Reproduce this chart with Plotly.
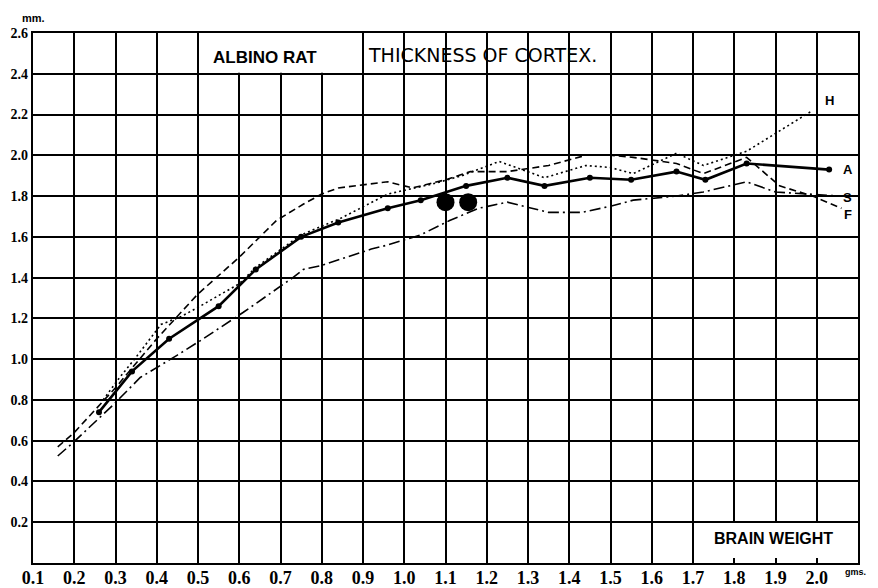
import plotly.graph_objects as go

# ---- data ----
a_x = [0.26, 0.34, 0.43, 0.55, 0.64, 0.75, 0.84, 0.96, 1.04, 1.15, 1.25, 1.34, 1.45, 1.55, 1.66, 1.73, 1.83, 2.03]
a_y = [0.74, 0.94, 1.10, 1.26, 1.44, 1.60, 1.67, 1.74, 1.78, 1.85, 1.89, 1.85, 1.89, 1.88, 1.92, 1.88, 1.96, 1.93]

h_x = [0.27, 0.31, 0.35, 0.41, 0.46, 0.505, 0.60, 0.64, 0.75, 0.845, 0.96, 1.07, 1.14, 1.23, 1.34, 1.44, 1.50, 1.555, 1.66, 1.725, 1.83, 1.99]
h_y = [0.80, 0.91, 1.01, 1.17, 1.21, 1.26, 1.37, 1.45, 1.61, 1.69, 1.81, 1.86, 1.90, 1.97, 1.89, 1.95, 1.94, 1.91, 2.01, 1.95, 2.02, 2.22]

f_x = [0.16, 0.20, 0.30, 0.40, 0.50, 0.60, 0.69, 0.755, 0.80, 0.84, 0.96, 1.02, 1.10, 1.16, 1.25, 1.35, 1.44, 1.50, 1.555, 1.66, 1.725, 1.83, 1.91, 1.99, 2.06]
f_y = [0.57, 0.64, 0.86, 1.10, 1.32, 1.50, 1.68, 1.76, 1.81, 1.84, 1.87, 1.84, 1.88, 1.92, 1.92, 1.95, 2.00, 2.00, 1.99, 1.96, 1.91, 1.99, 1.85, 1.80, 1.74]

s_x = [0.16, 0.197, 0.294, 0.36, 0.45, 0.505, 0.61, 0.73, 0.755, 0.80, 0.92, 0.96, 1.04, 1.11, 1.18, 1.25, 1.35, 1.43, 1.50, 1.555, 1.66, 1.725, 1.83, 1.90, 2.06]
s_y = [0.525, 0.59, 0.775, 0.91, 1.02, 1.09, 1.23, 1.40, 1.44, 1.46, 1.54, 1.56, 1.61, 1.68, 1.74, 1.77, 1.72, 1.72, 1.75, 1.78, 1.80, 1.82, 1.87, 1.82, 1.80]

big_x = [1.10, 1.155]
big_y = [1.77, 1.77]

x_ticks = [round(0.1 * i, 1) for i in range(1, 21)]
x_labels = ["0.1", "0.2", "0.3", "0.4", "0.5", "0.6", "0.7", "0.8", "0.9", "1.0",
            "1.1", "1.2", "1.3", "1.4", "1.5", "1.6", "1.7", "1.8", "1.9", "2.0"]
y_ticks = [round(0.2 * i, 1) for i in range(1, 14)]
y_labels = ["0.2", "0.4", "0.6", "0.8", "1.0", "1.2", "1.4", "1.6", "1.8", "2.0", "2.2", "2.4", "2.6"]

fig = go.Figure()
fig.add_trace(go.Scatter(x=h_x, y=h_y, mode="lines", name="H",
                         line=dict(color="black", width=1.6, dash="2px,3px")))
fig.add_trace(go.Scatter(x=f_x, y=f_y, mode="lines", name="F",
                         line=dict(color="black", width=1.6, dash="7px,4px")))
fig.add_trace(go.Scatter(x=s_x, y=s_y, mode="lines", name="S",
                         line=dict(color="black", width=1.6, dash="11px,4px,2px,4px")))
fig.add_trace(go.Scatter(x=a_x, y=a_y, mode="lines+markers", name="A",
                         line=dict(color="black", width=2.6),
                         marker=dict(color="black", size=6)))
fig.add_trace(go.Scatter(x=big_x, y=big_y, mode="markers", name="",
                         marker=dict(color="black", size=18)))

# white boxes hiding the grid
fig.add_shape(type="rect", x0=0.503, x1=0.897, y0=2.405, y1=2.6, layer="between",
              fillcolor="white", line=dict(width=0))
fig.add_shape(type="rect", x0=1.703, x1=2.1, y0=0.0, y1=0.196, layer="between",
              fillcolor="white", line=dict(width=0))

ann_font = dict(family="Liberation Sans, Arial, sans-serif", color="black")
fig.add_annotation(x=0.663, y=2.478, text="ALBINO RAT", showarrow=False,
                   font=dict(size=17, weight=600, **ann_font))
fig.add_annotation(x=1.19, y=2.49, text="THICKNESS OF CORTEX.", showarrow=False,
                   font=dict(family="DejaVu Sans, sans-serif", size=19, color="black"))
fig.add_annotation(x=1.895, y=0.118, text="BRAIN WEIGHT", showarrow=False,
                   font=dict(size=16, weight=600, **ann_font))
fig.add_annotation(xref="paper", yref="paper", x=-0.016, y=1.043, text="<b>mm.</b>",
                   showarrow=False, font=dict(size=11, **ann_font))
fig.add_annotation(xref="paper", yref="paper", x=1.012, y=-0.03, text="<b>gms.</b>",
                   showarrow=False, font=dict(size=9, **ann_font))
for t, xx, yy in [("H", 2.03, 2.27), ("A", 2.075, 1.93), ("S", 2.075, 1.795), ("F", 2.075, 1.71)]:
    fig.add_annotation(x=xx, y=yy, text="<b>" + t + "</b>", showarrow=False,
                       font=dict(size=13, **ann_font))

fig.update_layout(width=878, height=588, margin=dict(l=33, r=20, t=33, b=25),
                  plot_bgcolor="white", paper_bgcolor="white", showlegend=False)
fig.update_xaxes(range=[0.1, 2.1], tickvals=x_ticks, ticktext=x_labels, automargin=False,
                 showgrid=True, gridcolor="black", gridwidth=1.8, zeroline=False,
                 showline=True, linecolor="black", linewidth=2.4, mirror=True,
                 ticks="inside", ticklen=5, tickwidth=1.5, tickcolor="black",
                 ticklabelstandoff=-3,
                 tickfont=dict(family="Liberation Serif, serif", size=18, color="black", weight="bold"))
fig.update_yaxes(range=[0, 2.6], tickvals=y_ticks, ticktext=y_labels, automargin=False,
                 showgrid=True, gridcolor="black", gridwidth=1.8, zeroline=False,
                 showline=True, linecolor="black", linewidth=2.4, mirror=True,
                 ticks="", tickfont=dict(family="Liberation Serif, serif", size=14, color="black", weight="bold"))

fig.write_html("out.html", config={"displayModeBar": False},
               post_script="document.body.style.margin='0px';document.body.style.overflow='hidden';")
